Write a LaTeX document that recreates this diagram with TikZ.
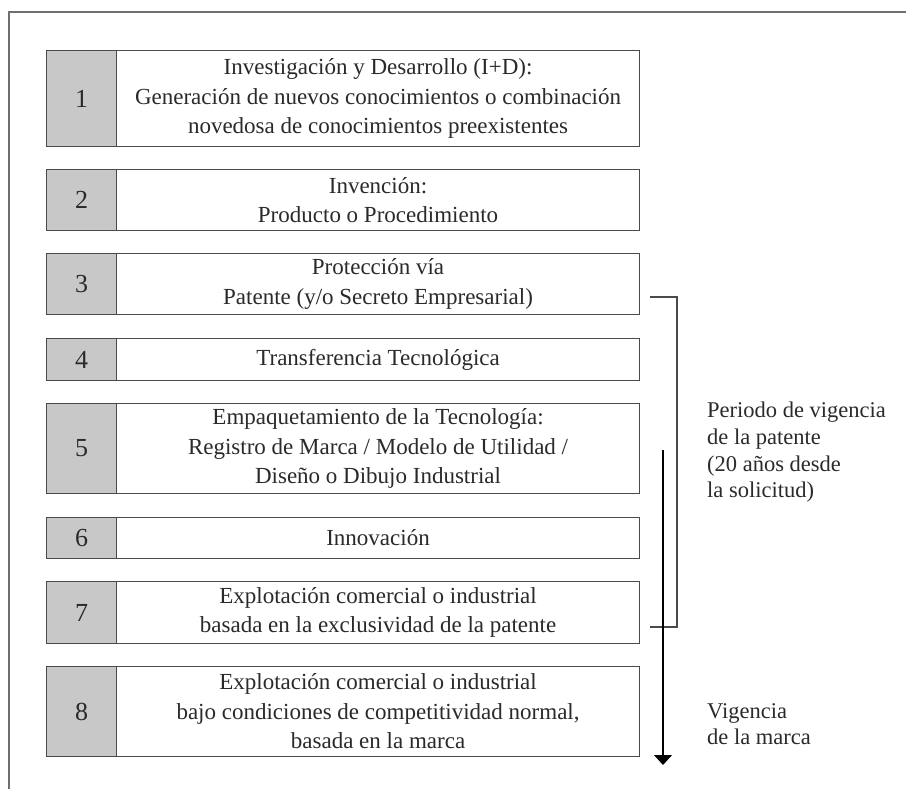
\documentclass[tikz,border=0pt]{standalone}
\usepackage{fontspec}
\setmainfont{Liberation Serif}
\usetikzlibrary{arrows.meta}
\definecolor{edgecol}{HTML}{4A4A4A}
\definecolor{numfill}{HTML}{C8C8C8}
\definecolor{framecol}{HTML}{6E6E6E}
\definecolor{textcol}{HTML}{2A2A2A}
\begin{document}
\begin{tikzpicture}[x=1pt,y=-1pt,
  numbox/.style={draw=edgecol, line width=1.1pt, fill=numfill, minimum width=70pt,
    inner sep=0pt, anchor=north west, text=textcol, font=\fontsize{26}{29}\selectfont},
  txtbox/.style={draw=edgecol, line width=1.1pt, fill=white, minimum width=523pt,
    inner sep=0pt, anchor=north west, align=center, text=textcol,
    font=\fontsize{23}{29.5}\selectfont},
  sidelabel/.style={anchor=north west, align=left, inner sep=0pt,
    font=\fontsize{22.5}{26.7}\selectfont, text=textcol},
  bracketline/.style={draw=edgecol, line width=1.1pt},
  arrowline/.style={draw=black, line width=1.1pt, -{Triangle[width=18pt,length=10pt]}},
  frameline/.style={draw=framecol, line width=1.4pt}
]
\useasboundingbox (0,0) rectangle (906,789);
\draw[frameline] (9,789) -- (9,12) -- (906,12);

\node[numbox, minimum height=96pt] (n1) at (46,50) {1};
\node[txtbox, minimum height=96pt] (t1) at (116,50)
  {Investigación y Desarrollo (I+D):\\Generación de nuevos conocimientos o combinación\\novedosa de conocimientos preexistentes};

\node[numbox, minimum height=61pt] (n2) at (46,169) {2};
\node[txtbox, minimum height=61pt] (t2) at (116,169)
  {Invención:\\Producto o Procedimiento};

\node[numbox, minimum height=61pt] (n3) at (46,253) {3};
\node[txtbox, minimum height=61pt] (t3) at (116,253)
  {Protección vía\\Patente (y/o Secreto Empresarial)};

\node[numbox, minimum height=42pt] (n4) at (46,338) {4};
\node[txtbox, minimum height=42pt] (t4) at (116,338)
  {Transferencia Tecnológica};

\node[numbox, minimum height=90pt] (n5) at (46,403) {5};
\node[txtbox, minimum height=90pt] (t5) at (116,403)
  {Empaquetamiento de la Tecnología:\\Registro de Marca / Modelo de Utilidad /\\Diseño o Dibujo Industrial};

\node[numbox, minimum height=41pt] (n6) at (46,517) {6};
\node[txtbox, minimum height=41pt] (t6) at (116,517)
  {Innovación};

\node[numbox, minimum height=62pt] (n7) at (46,581) {7};
\node[txtbox, minimum height=62pt] (t7) at (116,581)
  {Explotación comercial o industrial\\basada en la exclusividad de la patente};

\node[numbox, minimum height=90pt] (n8) at (46,666) {8};
\node[txtbox, minimum height=90pt] (t8) at (116,666)
  {Explotación comercial o industrial\\bajo condiciones de competitividad normal,\\basada en la marca};

\coordinate (btop) at (650,297);
\coordinate (bbot) at (650,627);
\draw[bracketline] (btop) -- ++(27,0) |- (bbot);

\coordinate (astart) at (663,450);
\coordinate (aend) at (663,765);
\draw[arrowline] (astart) -- (aend);

\node[sidelabel] (patlabel) at (707,402)
  {Periodo de vigencia\\de la patente\\(20 años desde\\la solicitud)};
\node[sidelabel] (marlabel) at (707,703)
  {Vigencia\\de la marca};
\end{tikzpicture}
\end{document}
